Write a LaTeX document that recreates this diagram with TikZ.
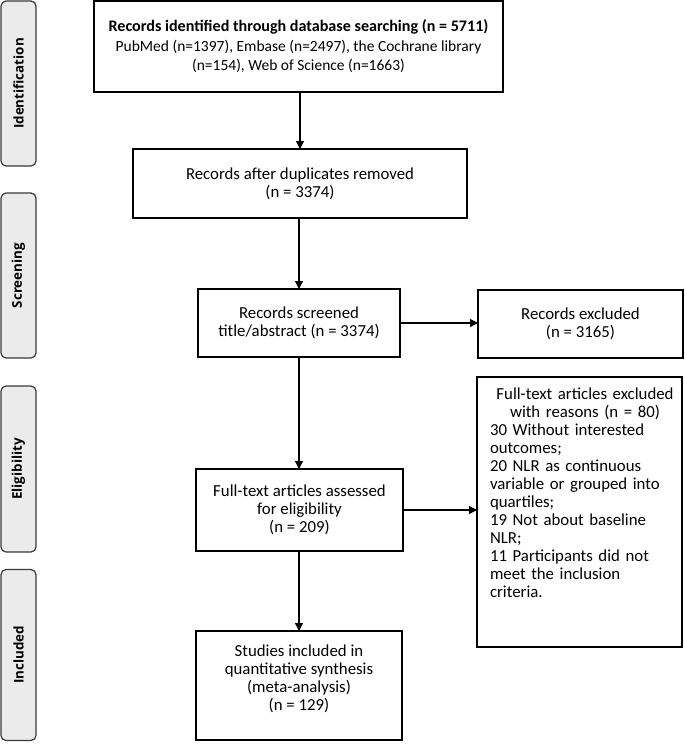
\documentclass[tikz,border=0pt]{standalone}
\usepackage{fontspec}
\setmainfont{Carlito}
\newfontfamily\sidefont{Open Sans}
\usetikzlibrary{arrows.meta}
\definecolor{sidefill}{HTML}{EBEBEB}
\definecolor{sideline}{HTML}{3A3A3A}
\begin{document}
\begin{tikzpicture}[x=1pt,y=-1pt,
  every node/.style={inner sep=0pt, outer sep=0pt},
  txt/.style={font=\fontsize{16.8}{18}\selectfont},
  box/.style={draw=black, line width=1.2pt, align=center, txt},
  side/.style={draw=sideline, fill=sidefill, line width=1.2pt, rounded corners=5pt, minimum width=35pt},
  sidetext/.style={rotate=90, font=\sidefont\bfseries\fontsize{13.4}{15}\selectfont},
  arr/.style={line width=1.2pt, -{Triangle[length=8pt,width=8pt]}}
]
\useasboundingbox (0,0) rectangle (685,745);
% side bars
\node[side, minimum height=165pt] (id) at (18.5,83.5) {};
\node[sidetext] (idt) at (id.center) {Identification};
\node[side, minimum height=165pt] (scr) at (18.5,275.5) {};
\node[sidetext] (scrt) at (scr.center) {Screening};
\node[side, minimum height=166pt] (elig) at (18.5,469) {};
\node[sidetext] (eligt) at (elig.center) {Eligibility};
\node[side, minimum height=171pt] (incl) at (18.5,655) {};
\node[sidetext] (inclt) at (incl.center) {Included};
% main boxes
\node[box, font=\fontsize{15.5}{19.5}\selectfont, minimum width=409pt, minimum height=91pt] (top) at (298.5,46.5)
  {{\bfseries\fontsize{16.1}{19.5}\selectfont Records identified through database searching (n = 5711)}\\
   PubMed (n=1397), Embase (n=2497), the Cochrane library\\(n=154), Web of Science (n=1663)};
\node[box, minimum width=334pt, minimum height=69pt] (dup) at (300,183.5)
  {Records after duplicates removed\\(n = 3374)};
\node[box, minimum width=202pt, minimum height=68pt] (scrn) at (299,323)
  {Records screened\\title/abstract (n = 3374)};
\node[box, minimum width=205pt, minimum height=68pt] (ex1) at (580.5,324)
  {Records excluded\\(n = 3165)};
\node[box, minimum width=207pt, minimum height=82pt] (full) at (299.5,510)
  {Full-text articles assessed\\for eligibility\\(n = 209)};
\node[box, minimum width=205pt, minimum height=270pt] (ex2) at (579.5,512) {};
\node[anchor=north west, txt, text width=190pt] (ex2t) at ([xshift=13pt,yshift=-11pt]ex2.north west)
  {\centering Full-text articles excluded\\with reasons (n = 80)\par
   \raggedright 30 Without interested\\outcomes;\\20 NLR as continuous\\variable or grouped into\\quartiles;\\19 Not about baseline\\NLR;\\11 Participants did not\\meet the inclusion\\criteria.\par};
\node[box, minimum width=206pt, minimum height=109pt] (inc) at (299,685.5)
  {Studies included in\\quantitative synthesis\\(meta-analysis)\\(n = 129)\\[-2pt]};
% arrows
\draw[arr] (top.south -| dup.north) -- (dup.north);
\draw[arr] (dup.south -| scrn.north) -- (scrn.north);
\draw[arr] (scrn.east) -- (scrn.east -| ex1.west);
\draw[arr] (scrn.south) -- (full.north -| scrn.south);
\draw[arr] (full.east) -- (full.east -| ex2.west);
\draw[arr] (full.south -| inc.north) -- (inc.north);
\end{tikzpicture}
\end{document}
